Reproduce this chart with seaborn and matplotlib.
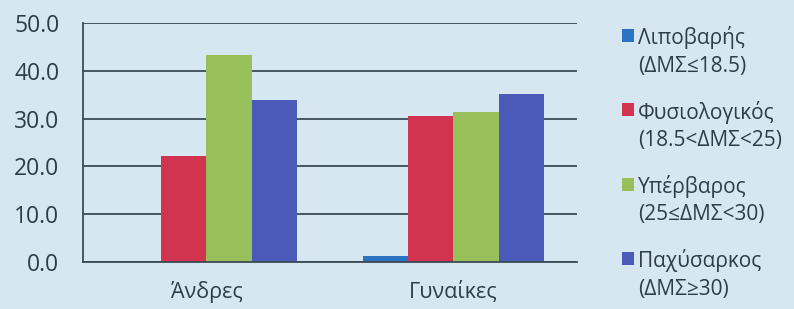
import pandas as pd
import seaborn as sns
import matplotlib.pyplot as plt
from matplotlib.patches import Patch

# ==========================================
# Data (%)
# ==========================================
groups = ['Άνδρες', 'Γυναίκες']
categories = ['Λιποβαρής\n(ΔΜΣ≤18.5)', 'Φυσιολογικός\n(18.5<ΔΜΣ<25)',
              'Υπέρβαρος\n(25≤ΔΜΣ<30)', 'Παχύσαρκος\n(ΔΜΣ≥30)']
men = [0.0, 22.2, 43.4, 33.9]
women = [1.2, 30.6, 31.4, 35.2]
yticks = [0, 10, 20, 30, 40, 50]

colors = ['#2b73c2', '#d2344f', '#98c05a', '#4b59b9']
bg = '#d6e7f2'
ink = '#2e3d48'
line = '#3c4a54'

rows = []
for g, vals in zip(groups, [men, women]):
    for c, v in zip(categories, vals):
        rows.append({'group': g, 'category': c, 'value': v})
df = pd.DataFrame(rows)

sns.set_style('white')
plt.rcParams['font.family'] = ['Open Sans', 'DejaVu Sans']

fig = plt.figure(figsize=(7.94, 3.09), dpi=100, facecolor=bg)
ax = fig.add_axes([0.1045, 0.1537, 0.6222, 0.7703])
ax.set_facecolor(bg)

sns.barplot(data=df, x='group', y='value', hue='category', order=groups,
            hue_order=categories, palette=colors, width=0.73, gap=0,
            saturation=1, legend=False, linewidth=0, edgecolor='none', ax=ax)

ax.set_ylim(0, 50)
ax.set_xlim(-0.5, 1.5)
ax.set_yticks(yticks)
ax.set_yticklabels([f'{t:.1f}' for t in yticks], fontsize=16.5, color=ink)
ax.yaxis.grid(True, color=line, linewidth=1.3)
ax.set_axisbelow(True)

# category labels centered, tick marks at the group boundaries
ax.set_xticks([0, 1])
ax.set_xticklabels(groups, fontsize=15.5, color=ink)
ax.tick_params(axis='x', which='major', length=0, pad=14)
ax.set_xticks([-0.5, 0.5, 1.5], minor=True)
ax.tick_params(axis='x', which='minor', length=7, width=1.3, color=line,
               direction='out')
ax.tick_params(axis='y', length=7, width=1.3, color=line, direction='out', pad=10)
ax.set_xlabel('')
ax.set_ylabel('')

for side in ['top', 'right']:
    ax.spines[side].set_visible(False)
for side in ['left', 'bottom']:
    ax.spines[side].set_color(line)
    ax.spines[side].set_linewidth(1.3)

handles = [Patch(facecolor=c, edgecolor='none') for c in colors]
leg = fig.legend(handles, categories, loc='upper left', bbox_to_anchor=(0.783, 0.915),
                 frameon=False, fontsize=15, handlelength=0.6, handleheight=0.6,
                 handletextpad=0.2, labelspacing=1.15, labelcolor=ink,
                 borderpad=0, borderaxespad=0)
for t in leg.get_texts():
    t.set_linespacing(1.4)
for h in leg.legend_handles:
    h.set_y(h.get_y() + 12)

fig.savefig('out.png', dpi=100, facecolor=bg)
